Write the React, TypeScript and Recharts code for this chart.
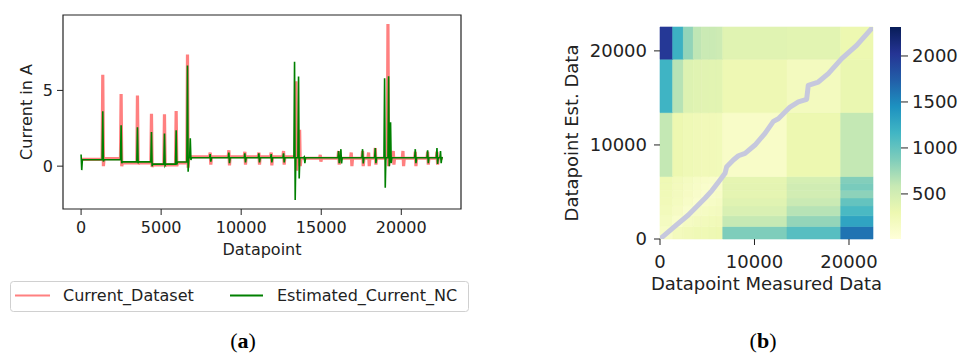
import React from 'react';
import { LineChart, Line, XAxis, YAxis, ReferenceArea, ComposedChart } from 'recharts';

const FONT = '"DejaVu Sans", sans-serif';
const INK = '#222';

// ---------- (a) current time series ----------
const xTicksA = [0, 5000, 10000, 15000, 20000];
const yTicksA = [0, 5];
const xDomainA = [-1130, 23730];
const yDomainA = [-2.83, 9.98];
const lastDatapoint = 22600;

const currentName = 'Current_Dataset';
const estimatedName = 'Estimated_Current_NC';
const currentColor = '#ff8080';
const estimatedColor = '#008000';

// step levels of the base signal (start datapoint, value)
const currentLevels = [
  { x: 0, y: 0.45 },
  { x: 1354, y: 0.5 },
  { x: 2500, y: 0.22 },
  { x: 4396, y: 0.08 },
  { x: 5938, y: 0.22 },
  { x: 6646, y: 0.62 },
  { x: 13650, y: 0.52 },
];
const estimatedLevels = [
  { x: 0, y: 0.42 },
  { x: 2500, y: 0.28 },
  { x: 4396, y: 0.13 },
  { x: 5938, y: 0.27 },
  { x: 6646, y: 0.55 },
];

// spikes: datapoint, peak, trough
const currentSpikes = [
  { x: 1354, hi: 6.03, lo: 0.0 },
  { x: 2500, hi: 4.76, lo: 0.0 },
  { x: 3521, hi: 4.67, lo: 0.12 },
  { x: 4396, hi: 3.46, lo: -0.05 },
  { x: 5208, hi: 3.42, lo: 0.0 },
  { x: 5938, hi: 3.64, lo: 0.0 },
  { x: 6646, hi: 7.37, lo: -0.1 },
  { x: 8063, hi: 0.9, lo: 0.1 },
  { x: 9229, hi: 1.05, lo: 0.05 },
  { x: 10229, hi: 0.95, lo: 0.1 },
  { x: 11104, hi: 0.9, lo: 0.1 },
  { x: 11875, hi: 0.9, lo: 0.05 },
  { x: 12646, hi: 1.0, lo: 0.1 },
  { x: 13420, hi: 5.6, lo: -0.3 },
  { x: 13650, hi: 2.4, lo: 0.0 },
  { x: 14938, hi: 0.75, lo: 0.3 },
  { x: 16083, hi: 1.0, lo: 0.1 },
  { x: 16875, hi: 0.9, lo: 0.0 },
  { x: 17583, hi: 1.0, lo: 0.0 },
  { x: 17958, hi: 0.9, lo: 0.0 },
  { x: 18375, hi: 1.2, lo: 0.1 },
  { x: 19167, hi: 9.39, lo: 0.0 },
  { x: 19500, hi: 1.0, lo: 0.1 },
  { x: 20104, hi: 1.0, lo: 0.0 },
  { x: 20875, hi: 0.95, lo: 0.0 },
  { x: 21646, hi: 0.95, lo: 0.1 },
  { x: 22229, hi: 0.95, lo: 0.1 },
];
const estimatedSpikes = [
  { x: 0, hi: 0.77, lo: -0.26 },
  { x: 1354, hi: 3.62, lo: 0.3 },
  { x: 2500, hi: 2.7, lo: 0.2 },
  { x: 3521, hi: 2.57, lo: 0.2 },
  { x: 4396, hi: 2.26, lo: 0.0 },
  { x: 5208, hi: 2.15, lo: 0.05 },
  { x: 5938, hi: 2.37, lo: 0.1 },
  { x: 6646, hi: 6.64, lo: -0.37 },
  { x: 6820, hi: 1.84, lo: 0.4 },
  { x: 8063, hi: 0.8, lo: 0.3 },
  { x: 9229, hi: 0.9, lo: 0.2 },
  { x: 10229, hi: 0.85, lo: 0.25 },
  { x: 11104, hi: 0.85, lo: 0.25 },
  { x: 11875, hi: 0.8, lo: 0.25 },
  { x: 12646, hi: 0.85, lo: 0.25 },
  { x: 13333, hi: 6.9, lo: -2.24 },
  { x: 13583, hi: 5.92, lo: -0.81 },
  { x: 13938, hi: 0.6, lo: 0.2 },
  { x: 16083, hi: 1.0, lo: 0.2 },
  { x: 16229, hi: 1.12, lo: 0.18 },
  { x: 17583, hi: 1.12, lo: 0.18 },
  { x: 18375, hi: 1.2, lo: 0.2 },
  { x: 18958, hi: 5.81, lo: -1.43 },
  { x: 19208, hi: 5.94, lo: 0.0 },
  { x: 19330, hi: 2.9, lo: 0.2 },
  { x: 20875, hi: 1.12, lo: 0.2 },
  { x: 21646, hi: 1.05, lo: 0.2 },
  { x: 22229, hi: 1.2, lo: 0.15 },
  { x: 22450, hi: 1.0, lo: 0.2 },
];

type Level = { x: number; y: number };
type Spike = { x: number; hi: number; lo: number };

function buildSeries(levels: Level[], spikes: Spike[]) {
  const baseAt = (x: number) => {
    let v = levels[0].y;
    levels.forEach((l) => {
      if (l.x <= x) v = l.y;
    });
    return v;
  };
  const pts: { x: number; y: number }[] = [];
  if (spikes[0].x > 0) pts.push({ x: 0, y: baseAt(0) });
  spikes.forEach((s) => {
    pts.push({ x: s.x - 40, y: baseAt(s.x - 1) });
    pts.push({ x: s.x, y: s.hi });
    pts.push({ x: s.x + 40, y: s.lo });
    pts.push({ x: s.x + 80, y: baseAt(s.x) });
  });
  pts.push({ x: lastDatapoint, y: baseAt(lastDatapoint) });
  return pts.filter((p) => p.x >= 0).sort((a, b) => a.x - b.x);
}

const currentData = buildSeries(currentLevels, currentSpikes);
const estimatedData = buildSeries(estimatedLevels, estimatedSpikes);

// ---------- (b) cost matrix heatmap ----------
const segEdges = [0, 1340, 2470, 3520, 4370, 5180, 5920, 6640, 13440, 19120, 22540];
// row 0 = bottom (est. datapoints 0..1340), columns = measured segments
const costRows = [
  [140, 210, 240, 260, 270, 280, 290, 880, 1060, 1620],
  [180, 110, 170, 200, 220, 230, 240, 590, 790, 1300],
  [220, 160, 100, 150, 170, 190, 200, 450, 650, 1120],
  [240, 190, 140, 90, 130, 150, 170, 400, 560, 1000],
  [250, 200, 160, 120, 80, 120, 140, 360, 500, 820],
  [260, 210, 170, 140, 110, 80, 120, 370, 520, 900],
  [270, 220, 180, 150, 130, 110, 80, 350, 480, 860],
  [600, 300, 260, 250, 240, 240, 230, 130, 300, 600],
  [1180, 650, 420, 400, 390, 380, 380, 280, 200, 320],
  [2000, 1200, 800, 620, 560, 560, 540, 400, 380, 300],
];
const heatTicks = [0, 10000, 20000];
const heatMax = 22540;

// warping path (measured datapoint, estimated datapoint)
const warpMeasured = [0, 1500, 3000, 4760, 5500, 6350, 6880, 7060, 7760, 8300, 9000, 10050, 11110, 11460, 12000, 12520, 13760, 14640, 15520, 15690, 16750, 17810, 19230, 20810, 22540];
const warpEstimated = [0, 1300, 2550, 4330, 5150, 6270, 6990, 7690, 8400, 8850, 9110, 9990, 11230, 11730, 12500, 12790, 14030, 14570, 14850, 16340, 16690, 17580, 19170, 20590, 22540];
const warpData = warpMeasured.map((x, i) => ({ x, y: warpEstimated[i] }));

const cbMin = 10;
const cbMax = 2315;
const cbTicks = [500, 1000, 1500, 2000];

const YLGNBU = ['#ffffd9', '#edf8b1', '#c7e9b4', '#7fcdbb', '#41b6c4', '#1d91c0', '#225ea8', '#253494', '#081d58'];

function hexToRgb(h: string) {
  return [1, 3, 5].map((i) => parseInt(h.slice(i, i + 2), 16));
}
function colorFor(v: number) {
  const t = Math.min(1, Math.max(0, (v - cbMin) / (cbMax - cbMin)));
  const pos = t * (YLGNBU.length - 1);
  const i = Math.min(YLGNBU.length - 2, Math.floor(pos));
  const f = pos - i;
  const a = hexToRgb(YLGNBU[i]);
  const b = hexToRgb(YLGNBU[i + 1]);
  const c = a.map((av, k) => Math.round(av + (b[k] - av) * f));
  return `rgb(${c[0]},${c[1]},${c[2]})`;
}

const cells = costRows.flatMap((row, r) =>
  row.map((v, c) => ({
    x1: segEdges[c],
    x2: segEdges[c + 1],
    y1: segEdges[r],
    y2: segEdges[r + 1],
    fill: colorFor(v),
  }))
);

// eslint-disable-next-line @typescript-eslint/no-explicit-any
const xTitle = (text: string, dy: number, fs: number) => (props: any) => {
  const vb = props.viewBox;
  return (
    <text x={vb.x + vb.width / 2} y={vb.y + dy} textAnchor="middle" fontSize={fs} fontFamily={FONT} fill={INK}>
      {text}
    </text>
  );
};
// eslint-disable-next-line @typescript-eslint/no-explicit-any
const yTitle = (text: string, dx: number, fs: number) => (props: any) => {
  const vb = props.viewBox;
  const bx = vb.x + dx;
  const cy = vb.y + vb.height / 2;
  return (
    <text x={bx} y={cy} transform={`rotate(-90, ${bx}, ${cy})`} textAnchor="middle" fontSize={fs} fontFamily={FONT} fill={INK}>
      {text}
    </text>
  );
};

const App: React.FC = () => {
  const tickA = { fontSize: 16, fill: INK, fontFamily: FONT };
  const tickB = { fontSize: 18, fill: INK, fontFamily: FONT };
  return (
    <div style={{ position: 'absolute', left: 0, top: 0, width: 968, height: 354, background: '#fff', overflow: 'hidden' }}>
      {/* (a) */}
      <div style={{ position: 'absolute', left: 0, top: 0 }}>
        <LineChart width={480} height={270} margin={{ top: 15, right: 19, bottom: 0, left: 0 }}>
          <XAxis
            type="number"
            dataKey="x"
            domain={xDomainA}
            ticks={xTicksA}
            allowDataOverflow
            height={61}
            tick={tickA}
            tickLine={{ stroke: INK }}
            tickSize={6}
            tickMargin={7}
            axisLine={false}
            label={{ content: xTitle('Datapoint', 46, 16) }}
          />
          <YAxis
            type="number"
            dataKey="y"
            domain={yDomainA}
            ticks={yTicksA}
            allowDataOverflow
            width={63}
            tick={tickA}
            tickLine={{ stroke: INK }}
            tickSize={6}
            tickMargin={4}
            axisLine={false}
            label={{ content: yTitle('Current in A', 31.5, 16) }}
          />
          <Line data={currentData} dataKey="y" name={currentName} type="linear" stroke={currentColor} strokeWidth={3.2} dot={false} isAnimationActive={false} />
          <Line data={estimatedData} dataKey="y" name={estimatedName} type="linear" stroke={estimatedColor} strokeWidth={1.6} dot={false} isAnimationActive={false} />
          <ReferenceArea x1={xDomainA[0]} x2={xDomainA[1]} y1={yDomainA[0]} y2={yDomainA[1]} fill="none" fillOpacity={0} stroke={INK} strokeWidth={1.2} />
        </LineChart>
      </div>

      {/* (b) heatmap */}
      <div style={{ position: 'absolute', left: 540, top: 0 }}>
        <ComposedChart width={428} height={300} data={warpData} margin={{ top: 27, right: 95, bottom: 0, left: 0 }}>
          <XAxis
            type="number"
            dataKey="x"
            domain={[0, heatMax]}
            ticks={heatTicks}
            allowDataOverflow
            height={61}
            tick={tickB}
            tickLine={{ stroke: INK }}
            tickSize={6}
            tickMargin={10}
            axisLine={false}
            label={{ content: xTitle('Datapoint Measured Data', 51, 18) }}
          />
          <YAxis
            type="number"
            dataKey="y"
            domain={[0, heatMax]}
            ticks={heatTicks}
            allowDataOverflow
            width={120}
            tick={tickB}
            tickLine={{ stroke: INK }}
            tickSize={6}
            tickMargin={7}
            axisLine={false}
            label={{ content: yTitle('Datapoint Est. Data', 38, 18) }}
          />
          {cells.map((c, i) => (
            <ReferenceArea key={`cell-${i}`} x1={c.x1} x2={c.x2} y1={c.y1} y2={c.y2} fill={c.fill} fillOpacity={1} stroke={c.fill} strokeWidth={0.6} />
          ))}
          <Line dataKey="y" type="linear" stroke="#c6c8dd" strokeWidth={5} strokeLinecap="round" strokeLinejoin="round" dot={false} isAnimationActive={false} />
        </ComposedChart>
      </div>

      {/* colorbar */}
      <div style={{ position: 'absolute', left: 860, top: 0 }}>
        <ComposedChart width={108} height={260} data={[{ x: 0, y: cbMin }, { x: 1, y: cbMax }]} margin={{ top: 27, right: 0, bottom: 21, left: 30 }}>
          <defs>
            <linearGradient id="ylgnbu" x1="0" y1="1" x2="0" y2="0">
              {YLGNBU.map((c, i) => (
                <stop key={c} offset={i / (YLGNBU.length - 1)} stopColor={c} />
              ))}
            </linearGradient>
          </defs>
          <XAxis type="number" dataKey="x" domain={[0, 1]} hide />
          <YAxis
            type="number"
            dataKey="y"
            orientation="right"
            domain={[cbMin, cbMax]}
            ticks={cbTicks}
            allowDataOverflow
            width={67}
            tick={tickB}
            tickLine={{ stroke: INK }}
            tickSize={7}
            tickMargin={4}
            axisLine={false}
          />
          <ReferenceArea x1={0} x2={1} y1={cbMin} y2={cbMax} fill="url(#ylgnbu)" fillOpacity={1} stroke="none" />
        </ComposedChart>
      </div>

      {/* legend + captions */}
      <svg width={968} height={354} style={{ position: 'absolute', left: 0, top: 0, pointerEvents: 'none' }}>
        <rect x={10.5} y={281.5} width={458} height={30} rx={3} fill="#fff" stroke="#d0d0d0" />
        <line x1={15} x2={50} y1={295.5} y2={295.5} stroke={currentColor} strokeWidth={2} />
        <text x={63} y={301} fontSize={16} fontFamily={FONT} fill={INK}>{currentName}</text>
        <line x1={230} x2={263} y1={295.5} y2={295.5} stroke={estimatedColor} strokeWidth={2} />
        <text x={277} y={301} fontSize={16} fontFamily={FONT} fill={INK}>{estimatedName}</text>
        <text x={243} y={348} textAnchor="middle" fontSize={22} fontFamily='"Liberation Serif", serif' fill="#000">
          (<tspan fontWeight="bold">a</tspan>)
        </text>
        <text x={763} y={348} textAnchor="middle" fontSize={22} fontFamily='"Liberation Serif", serif' fill="#000">
          (<tspan fontWeight="bold">b</tspan>)
        </text>
      </svg>
    </div>
  );
};

export default App;
